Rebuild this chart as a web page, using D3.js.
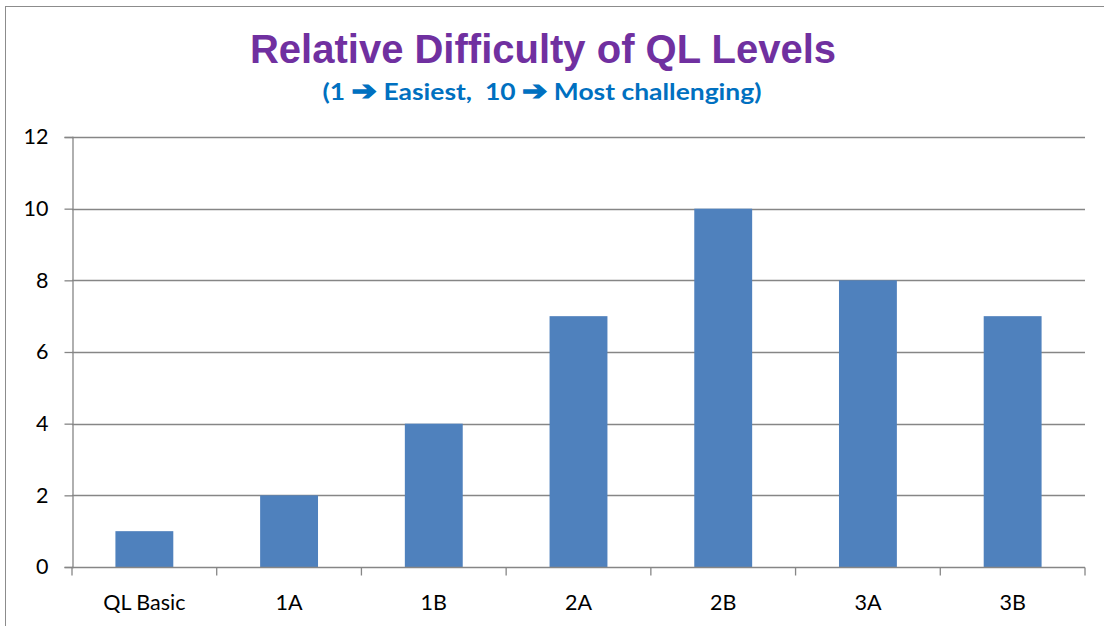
<!DOCTYPE html>
<html>
<head>
<meta charset="utf-8">
<script src="https://cdn.jsdelivr.net/npm/d3@7"></script>
<style>
  html, body { margin: 0; padding: 0; background: #fff; }
  svg { display: block; }
  text.pre { white-space: pre; }
</style>
</head>
<body>
<svg id="chart" width="1104" height="626"></svg>
<script>
// Difficulty rating for each QL level
const categories = ["QL Basic", "1A", "1B", "2A", "2B", "3A", "3B"];
const difficulty = [1, 2, 4, 7, 10, 8, 7];
const yTicks = [0, 2, 4, 6, 8, 10, 12];

const titleText = "Relative Difficulty of QL Levels";
// subtitle pieces: plain text and arrow glyphs
const subtitleParts = [
  { t: "(1 ", arrow: false },
  { t: "\u2794", arrow: true },
  { t: " Easiest,  10 ", arrow: false },
  { t: "\u2794", arrow: true },
  { t: " Most challenging)", arrow: false }
];

const svg = d3.select("#chart");
const W = 1104, H = 626;
const plot = { left: 72, right: 1085, top: 137, bottom: 567 };

const axisColor = "#868686";
const labelFont = "Lato, 'Open Sans', sans-serif";
const labelSize = 21.5;

// outer frame
svg.append("rect")
  .attr("x", 5.5).attr("y", 6.5)
  .attr("width", W + 10).attr("height", H + 10)
  .attr("fill", "none").attr("stroke", "#8c8c8c").attr("stroke-width", 1);

const xOuter = d3.scaleBand().domain(categories).range([plot.left, plot.right]);
const y = d3.scaleLinear().domain([0, 12]).range([plot.bottom, plot.top]);

// horizontal gridlines
svg.append("g")
  .selectAll("line")
  .data(yTicks.filter(d => d > 0))
  .join("line")
  .attr("x1", plot.left).attr("x2", plot.right)
  .attr("y1", d => Math.round(y(d)) + 0.5).attr("y2", d => Math.round(y(d)) + 0.5)
  .attr("stroke", axisColor).attr("stroke-width", 1.3);

// bars
svg.append("g")
  .selectAll("rect")
  .data(categories.map((c, i) => ({ c, v: difficulty[i] })))
  .join("rect")
  .attr("x", d => xOuter(d.c) + xOuter.bandwidth() * 0.3)
  .attr("width", xOuter.bandwidth() * 0.4)
  .attr("y", d => y(d.v))
  .attr("height", d => y(0) - y(d.v))
  .attr("fill", "#4F81BD");

// y axis
const yAxis = svg.append("g")
  .attr("transform", `translate(${plot.left + 0.5},0)`)
  .call(d3.axisLeft(y).tickValues(yTicks).tickSize(8).tickPadding(16).tickFormat(d3.format("d")));
yAxis.select(".domain").attr("stroke", axisColor).attr("stroke-width", 1.3);
yAxis.selectAll(".tick line").attr("stroke", axisColor).attr("stroke-width", 1.3);
yAxis.selectAll(".tick text")
  .attr("font-family", labelFont).attr("font-size", labelSize).attr("fill", "#000");

// x axis with ticks at category boundaries
const xAxisG = svg.append("g").attr("transform", `translate(0,${plot.bottom + 0.5})`);
xAxisG.append("line")
  .attr("x1", plot.left).attr("x2", plot.right)
  .attr("stroke", axisColor).attr("stroke-width", 1.3);
const boundaries = categories.map(c => xOuter(c)).concat([plot.right]);
xAxisG.selectAll("line.tk")
  .data(boundaries)
  .join("line").attr("class", "tk")
  .attr("x1", d => d).attr("x2", d => d)
  .attr("y1", 0).attr("y2", 8)
  .attr("stroke", axisColor).attr("stroke-width", 1.3);
xAxisG.selectAll("text")
  .data(categories)
  .join("text")
  .attr("x", d => xOuter(d) + xOuter.bandwidth() / 2)
  .attr("y", 42)
  .attr("text-anchor", "middle")
  .attr("font-family", labelFont).attr("font-size", labelSize).attr("fill", "#000")
  .text(d => d);

// titles
svg.append("text")
  .attr("x", 543).attr("y", 63)
  .attr("text-anchor", "middle")
  .attr("font-family", "'Liberation Sans', Arial, sans-serif")
  .attr("font-weight", "bold").attr("font-size", 40)
  .attr("fill", "#7030A0")
  .text(titleText);

// subtitle, widened slightly to span its line
const subCx = 542, subWidth = 439;
const sub = svg.append("text")
  .attr("class", "pre")
  .attr("x", 0).attr("y", 0)
  .attr("text-anchor", "middle")
  .attr("font-family", labelFont)
  .attr("font-weight", "bold").attr("font-size", 23.5)
  .attr("fill", "#0070C0");
sub.selectAll("tspan")
  .data(subtitleParts)
  .join("tspan")
  .attr("font-family", d => d.arrow ? "'DejaVu Sans', sans-serif" : null)
  .attr("font-size", d => d.arrow ? 27 : null)
  .attr("stroke", d => d.arrow ? "#0070C0" : null)
  .attr("stroke-width", d => d.arrow ? 1.2 : null)
  .text(d => d.t);
const natural = sub.node().getComputedTextLength();
sub.attr("transform", `translate(${subCx},100) scale(${subWidth / natural},1)`);
</script>
</body>
</html>
